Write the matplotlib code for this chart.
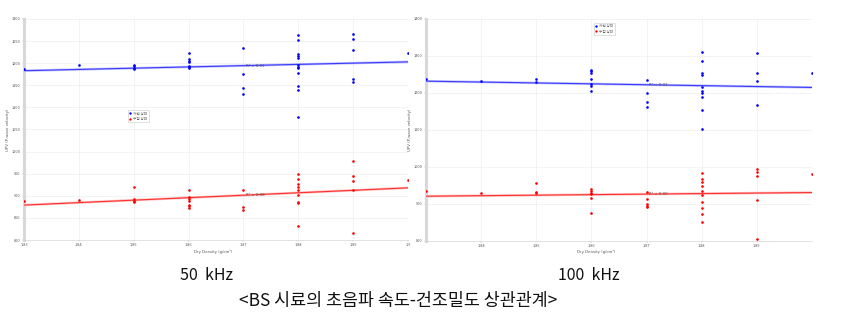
import numpy as np
import matplotlib
matplotlib.use("Agg")
import matplotlib.pyplot as plt

plt.rcParams['font.family'] = ['Noto Sans CJK KR', 'DejaVu Sans']

# 50 kHz data (dry density vs UPV)
d50_blue = [1.83, 1.84, 1.85, 1.85, 1.85, 1.85,
            1.86, 1.86, 1.86, 1.86, 1.86, 1.86, 1.86,
            1.87, 1.87, 1.87, 1.87,
            1.88, 1.88, 1.88, 1.88, 1.88, 1.88, 1.88, 1.88, 1.88, 1.88, 1.88, 1.88,
            1.89, 1.89, 1.89, 1.89, 1.89, 1.90]
v50_blue = [1187, 1195, 1196, 1193, 1190, 1186,
            1222, 1210, 1205, 1202, 1194, 1191, 1188,
            1235, 1176, 1143, 1130,
            1264, 1253, 1220, 1216, 1212, 1196, 1192, 1188, 1177, 1148, 1139, 1079,
            1266, 1255, 1230, 1164, 1157, 1223]
d50_red = [1.83, 1.84, 1.85, 1.85, 1.85, 1.85,
           1.86, 1.86, 1.86, 1.86, 1.86, 1.86, 1.86,
           1.87, 1.87, 1.87,
           1.88, 1.88, 1.88, 1.88, 1.88, 1.88, 1.88, 1.88, 1.88,
           1.89, 1.89, 1.89, 1.89, 1.89, 1.90]
v50_red = [889, 890, 921, 893, 889, 885,
           912, 897, 893, 889, 880, 876, 872,
           912, 875, 867,
           950, 938, 927, 921, 912, 902, 887, 883, 832,
           979, 944, 934, 913, 815, 936]
fit50_blue = [1183, 1203]
fit50_red = [879, 918]
r2_50 = ["R² = 0.01", "R² = 0.08"]

# 100 kHz data
d100_blue = [1.83, 1.84, 1.85, 1.85,
             1.86, 1.86, 1.86, 1.86, 1.86, 1.86, 1.86,
             1.87, 1.87, 1.87, 1.87,
             1.88, 1.88, 1.88, 1.88, 1.88, 1.88, 1.88, 1.88, 1.88, 1.88,
             1.89, 1.89, 1.89, 1.89, 1.90]
v100_blue = [1239, 1233, 1239, 1230,
             1262, 1259, 1254, 1239, 1224, 1220, 1205,
             1235, 1199, 1176, 1163,
             1311, 1287, 1255, 1248, 1217, 1205, 1201, 1190, 1153, 1103,
             1308, 1254, 1232, 1168, 1254]
d100_red = [1.83, 1.84, 1.85, 1.85, 1.85,
            1.86, 1.86, 1.86, 1.86, 1.86, 1.86,
            1.87, 1.87, 1.87, 1.87, 1.87,
            1.88, 1.88, 1.88, 1.88, 1.88, 1.88, 1.88, 1.88, 1.88, 1.88,
            1.89, 1.89, 1.89, 1.89, 1.89, 1.90]
v100_red = [934, 931, 957, 932, 929,
            940, 936, 931, 927, 916, 876,
            932, 913, 900, 894, 891,
            984, 967, 959, 948, 936, 925, 906, 888, 872, 850,
            994, 986, 977, 910, 805, 981]
fit100_blue = [1232, 1215]
fit100_red = [921, 931]
r2_100 = ["R² = 0.01", "R² = 0.00"]

legend_labels = ["자연 상태", "수침 상태"]
x_range = [1.83, 1.90]

fig = plt.figure(figsize=(8.43, 3.32), dpi=100)
ax1 = fig.add_axes([0.0285, 0.2771, 0.4555, 0.6657])
ax2 = fig.add_axes([0.5053, 0.2741, 0.4579, 0.6687])


def draw_panel(ax, db, vb, dr, vr, fb, fr, r2, ylim, yticks, xticks, xlabels, leg_pos):
    for fit, c in [(fb, '#3a3aff'), (fr, '#ff3030')]:
        ax.plot(x_range, fit, color=c, lw=1.8, alpha=0.3, zorder=2)
        ax.plot(x_range, fit, color=c, lw=0.8, zorder=3)
    hb, = ax.plot(db, vb, 'o', color='#0000ff', ms=1.9, mew=0, zorder=4)
    hr, = ax.plot(dr, vr, 'o', color='#ff0000', ms=1.9, mew=0, zorder=4)
    ax.text(1.8705, fb[0] + (fb[1] - fb[0]) * 4 / 7, r2[0], fontsize=2.8,
            color='#555555', va='center', family=['DejaVu Sans'])
    ax.text(1.8705, fr[0] + (fr[1] - fr[0]) * 4 / 7, r2[1], fontsize=2.8,
            color='#555555', va='center', family=['DejaVu Sans'])
    ax.set_xlim(x_range)
    ax.set_ylim(ylim)
    ax.set_xticks(xticks)
    ax.set_xticklabels(xlabels, fontsize=2.8, color='#555555')
    ax.set_yticks(yticks)
    ax.set_yticklabels([str(t) for t in yticks], fontsize=2.8, color='#555555')
    ax.tick_params(length=1.5, width=0.3, colors='#bbbbbb', labelcolor='#555555', pad=1)
    ax.grid(True, color='#eeeeee', lw=0.5)
    ax.set_axisbelow(True)
    for s in ['top', 'right']:
        ax.spines[s].set_visible(False)
    ax.spines['bottom'].set_color('#cccccc')
    ax.spines['bottom'].set_linewidth(0.4)
    ax.spines['left'].set_color('#d8d8d8')
    ax.spines['left'].set_linewidth(2.2)
    ax.set_ylabel("UPV (P-wave velocity)", fontsize=2.8, color='#555555', labelpad=1,
                  family=['DejaVu Sans'])
    leg = ax.legend([hb, hr], legend_labels, loc='upper left', bbox_to_anchor=leg_pos,
                    fontsize=2.6, frameon=True, handlelength=0.6, markerscale=0.9,
                    borderpad=0.4, labelspacing=0.3, handletextpad=0.5)
    leg.get_frame().set_linewidth(0.4)
    leg.get_frame().set_edgecolor('#bbbbbb')
    for t in leg.get_texts():
        t.set_color('#666666')


draw_panel(ax1, d50_blue, v50_blue, d50_red, v50_red, fit50_blue, fit50_red, r2_50,
           (800, 1300), list(range(800, 1301, 50)),
           [1.83, 1.84, 1.85, 1.86, 1.87, 1.88, 1.89, 1.90],
           ["1.83", "1.84", "1.85", "1.86", "1.87", "1.88", "1.89", "1.9"],
           (0.265, 0.595))
draw_panel(ax2, d100_blue, v100_blue, d100_red, v100_red, fit100_blue, fit100_red, r2_100,
           (800, 1400), list(range(800, 1401, 100)),
           [1.84, 1.85, 1.86, 1.87, 1.88, 1.89],
           ["1.84", "1.85", "1.86", "1.87", "1.88", "1.89"],
           (0.43, 0.99))

fig.text(213 / 843, 1 - 252 / 332, "Dry Density (g/cm³)", fontsize=2.8, color='#555555',
         ha='center', va='center', family=['DejaVu Sans'])
fig.text(596 / 843, 1 - 252 / 332, "Dry Density (g/cm³)", fontsize=2.8, color='#555555',
         ha='center', va='center', family=['DejaVu Sans'])

fig.text(207 / 843, 1 - 276 / 332, "50  kHz", fontsize=11.5, color='#111111',
         ha='center', va='center')
fig.text(589 / 843, 1 - 276 / 332, "100  kHz", fontsize=11.5, color='#111111',
         ha='center', va='center')
fig.text(398 / 843, 1 - 301 / 332, "<BS 시료의 초음파 속도-건조밀도 상관관계>", fontsize=12.5,
         color='#111111', ha='center', va='center')

fig.savefig("out.png", dpi=100, facecolor='white')
